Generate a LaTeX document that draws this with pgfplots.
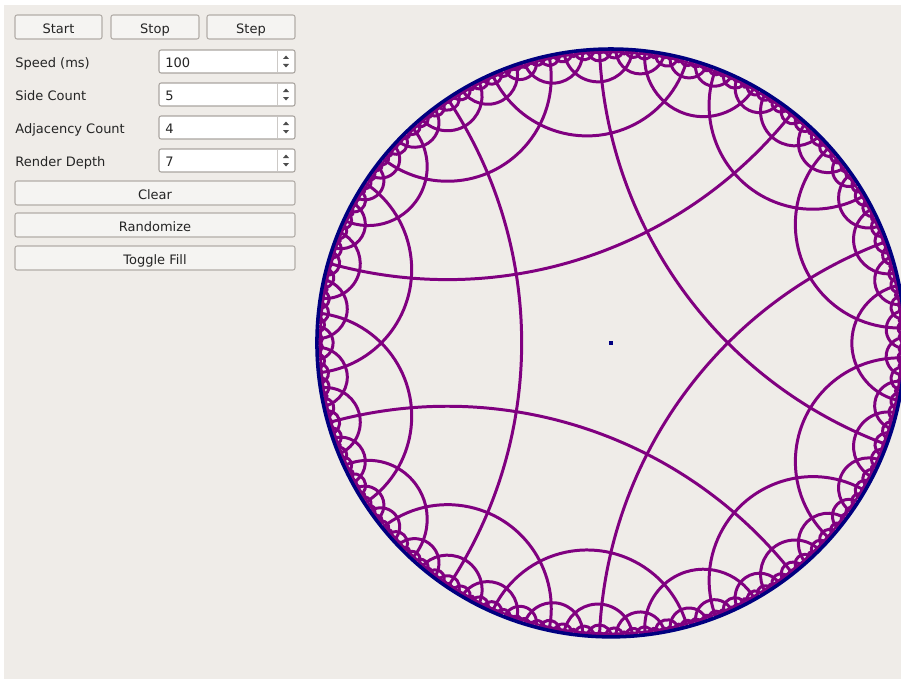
\documentclass[border=0pt]{standalone}
\usepackage{pgfplots}
\pgfplotsset{compat=1.18}
\usepackage{fontspec}
\setmainfont{DejaVu Sans}

\definecolor{winbg}{RGB}{239,236,232}
\definecolor{geo}{RGB}{128,0,128}
\definecolor{rim}{RGB}{0,0,128}
\definecolor{btnedge}{RGB}{178,173,168}
\definecolor{btnfill}{RGB}{245,244,242}
\definecolor{boxedge}{RGB}{170,165,160}
\definecolor{txt}{RGB}{36,36,36}

% {5,4} tiling lines as geodesics: direction of the middle of the arc / half its angular width (deg).
% one entry per class; the picture has 5-fold rotation and mirror symmetry
\def\symlines{36/56.2278, 0/11.3167, 36/3.24, 0/0.6007}
\def\pairlines{22.3863/19.4429, 20.4914/6.7097, 29.355/5.806, 12.271/4.7601,
  2.6095/3.691, 20.2592/2.3212, 6.974/2.318, 30.075/1.9756, 23.2508/1.8879,
  27.4278/1.7629, 17.3452/1.7623, 11.4267/1.5913, 13.6168/1.4999, 32.4806/1.3745,
  2.9037/1.2684, 1.2365/1.0809, 35.2546/1.0544, 9.5165/1.0505, 25.3942/1.014,
  4.4715/0.9216, 15.366/0.902, 20.2316/0.803, 7.4504/0.7634, 6.3749/0.7441,
  30.1592/0.6822, 34.008/0.665, 21.2579/0.6389, 23.5142/0.639, 19.2147/0.6239,
  27.2279/0.6012, 17.0677/0.5923, 22.6516/0.5796, 17.8742/0.5481, 11.33/0.5485,
  28.029/0.5307, 13.7621/0.5136, 31.013/0.5138, 29.2775/0.56}

\newcommand\unitcm{5.88}% one axis unit = disk radius
\newcommand\geodesic[2]{%
  \pgfmathsetmacro\gph{#1}\pgfmathsetmacro\gal{#2}%
  \pgfmathsetmacro\gsx{cos(\gph+\gal)}\pgfmathsetmacro\gsy{sin(\gph+\gal)}%
  \pgfmathsetmacro\gsa{\gph+90+\gal}\pgfmathsetmacro\gea{\gph+270-\gal}%
  \pgfmathsetmacro\grad{\unitcm*tan(\gal)}%
  \draw[geo, line width=1.7pt] (axis cs:\gsx,\gsy) arc[start angle=\gsa, end angle=\gea, radius=\grad cm];}

\begin{document}
\begin{tikzpicture}[x=0.02cm, y=-0.02cm,
    font=\fontsize{7.4pt}{9pt}\selectfont,
    btn/.style={draw=btnedge, fill=btnfill, rounded corners=1.2pt, line width=0.6pt},
    box/.style={draw=boxedge, fill=white, rounded corners=1.2pt, line width=0.6pt},
    lbl/.style={inner sep=0pt, text height=0.73em, text depth=0pt, text=txt}]
\useasboundingbox (0,0) rectangle (901,679);
\clip (0,0) rectangle (901,679);
\fill[white] (0,0) rectangle (901,679);
\fill[winbg] (4,5) rectangle (901,679);

% buttons on top
\draw[btn] (15,15) rectangle (102,39);
\node[lbl] at (58.5,27.3) {Start};
\draw[btn] (111,15) rectangle (199,39);
\node[lbl] at (155,27.3) {Stop};
\draw[btn] (207,15) rectangle (295,39);
\node[lbl] at (251,27.3) {Step};

% spin boxes
\foreach \y/\name/\val in {50/Speed (ms)/100, 83/Side Count/5, 116/Adjacency Count/4, 149/Render Depth/7}{
  \draw[box] (159,\y) rectangle (295,\y+23);
  \draw[boxedge!60, line width=0.5pt] (277,\y+1) -- (277,\y+22);
  \fill[black!70] (283,\y+9) -- (289,\y+9) -- (286,\y+5.5) -- cycle;
  \fill[black!70] (283,\y+14) -- (289,\y+14) -- (286,\y+17.5) -- cycle;
  \node[lbl, anchor=west] at (15,\y+11.5) {\name};
  \node[lbl, anchor=west] at (165,\y+11.5) {\val};
}

% wide buttons
\draw[btn] (15,181) rectangle (295,205);
\node[lbl] at (155,193) {Clear};
\draw[btn] (15,213) rectangle (295,237);
\node[lbl] at (155,225) {Randomize};
\draw[btn] (15,246) rectangle (295,270);
\node[lbl] at (155,258) {Toggle Fill};

% disk centre at pixel (611,343), radius 294 px
\begin{axis}[
    hide axis,
    scale only axis,
    width=12.1128cm, height=12.1128cm,
    xmin=-1.03, xmax=1.03, ymin=-1.03, ymax=1.03,
    enlargelimits=false,
    at={(12.22cm,-6.86cm)}, anchor=center,
  ]
  \pgfplotsextra{%
    \foreach \r in {0,72,144,216,288}{%
      \foreach \p/\a in \symlines {\geodesic{\p+\r}{\a}}%
      \foreach \p/\a in \pairlines {\geodesic{\p+\r}{\a}\geodesic{\r-\p}{\a}}%
    }%
    \draw[geo, line width=1.2pt] (axis cs:0,0) circle[radius=5.815cm];
    \draw[rim, line width=2pt] (axis cs:0,0) circle[radius=5.88cm];
  }
  \addplot[only marks, mark=square*, mark size=0.85pt, color=rim] coordinates {(0,0)};
\end{axis}
\end{tikzpicture}
\end{document}
